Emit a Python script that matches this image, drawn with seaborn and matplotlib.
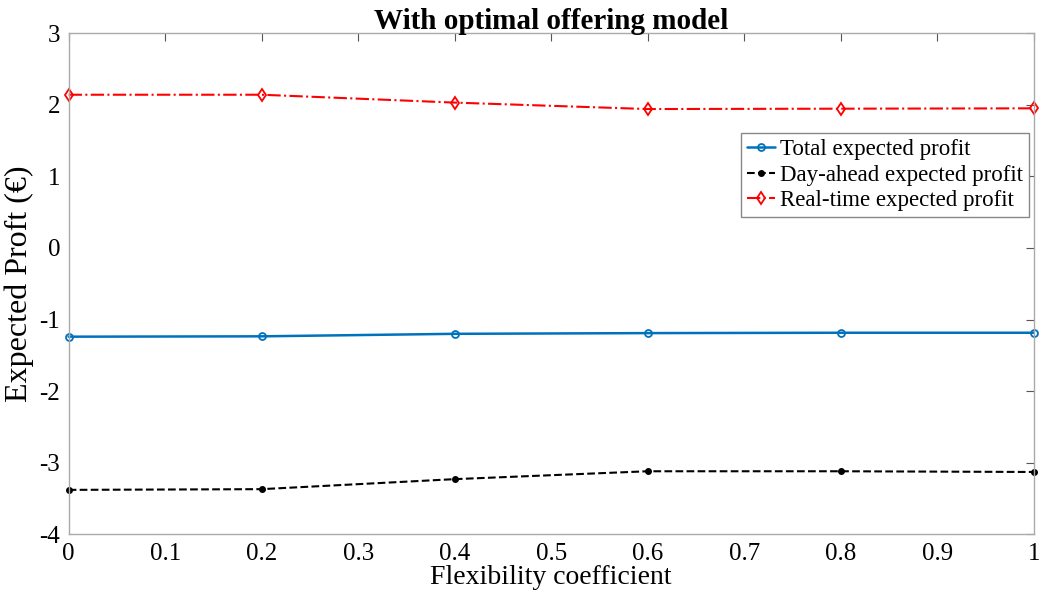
import matplotlib
matplotlib.use("Agg")
import matplotlib.pyplot as plt
import seaborn as sns
import pandas as pd

flex = [0, 0.2, 0.4, 0.6, 0.8, 1.0]
total = [-1.24, -1.235, -1.20, -1.19, -1.185, -1.185]
day_ahead = [-3.38, -3.37, -3.23, -3.12, -3.12, -3.13]
real_time = [2.14, 2.14, 2.03, 1.94, 1.945, 1.95]
labels = ["Total expected profit", "Day-ahead expected profit", "Real-time expected profit"]

sns.set_style("white")
plt.rcParams['font.family'] = ['Liberation Serif', 'DejaVu Serif']
plt.rcParams['text.color'] = 'black'
plt.rcParams['axes.labelcolor'] = 'black'
plt.rcParams['xtick.labelcolor'] = 'black'
plt.rcParams['ytick.labelcolor'] = 'black'

fig = plt.figure(figsize=(10.4, 6.03), dpi=100)
ax = fig.add_axes([0.066, 0.114, 0.928, 0.831])

styles = [
    dict(color="#0072BD", ls="-", marker="o", mfc="none", ms=5, mew=1.3, lw=1.8),
    dict(color="black", ls="--", marker="o", mfc="black", ms=4, mew=1, lw=1.5),
    dict(color="#FF0000", ls="-.", marker="d", mfc="none", ms=6, mew=1.3, lw=1.5),
]
for y, lab, st in zip([total, day_ahead, real_time], labels, styles):
    df = pd.DataFrame({"x": flex, "y": y})
    sns.lineplot(data=df, x="x", y="y", ax=ax, label=lab, color=st["color"],
                 linestyle=st["ls"], marker=st["marker"], markerfacecolor=st["mfc"],
                 markeredgecolor=st["color"], markersize=st["ms"], markeredgewidth=st["mew"],
                 linewidth=st["lw"], clip_on=False)

ax.set_xlim(0, 1)
ax.set_ylim(-4, 3)
ax.set_xticks([0, 0.1, 0.2, 0.3, 0.4, 0.5, 0.6, 0.7, 0.8, 0.9, 1])
ax.set_xticklabels(["0", "0.1", "0.2", "0.3", "0.4", "0.5", "0.6", "0.7", "0.8", "0.9", "1"])
ax.set_yticks([-4, -3, -2, -1, 0, 1, 2, 3])
ax.set_yticklabels(["-4", "-3", "-2", "-1", "0", "1", "2", "3"])
ax.tick_params(direction="in", length=6, width=0.8, color="#555555", labelsize=18,
               labelcolor="black", top=True, right=True, pad=6)
for sp in ax.spines.values():
    sp.set_color("#AAAAAA")
    sp.set_linewidth(1.0)
ax.set_xlabel("Flexibility coefficient", fontsize=20, labelpad=0, color="black")
ax.set_ylabel("Expected Proft (€)", fontsize=23, labelpad=4, color="black")
ax.set_title("With optimal offering model", fontsize=21, fontweight="bold", pad=3, color="black")

leg = ax.legend(loc="upper left", bbox_to_anchor=(0.697, 0.80), fontsize=16.5,
                frameon=True, fancybox=False, edgecolor="#888888",
                handlelength=1.2, handletextpad=0.25, borderpad=0.25, labelspacing=0.2,
                borderaxespad=0, framealpha=1)
leg.get_frame().set_linewidth(1.0)
for t in leg.get_texts():
    t.set_color("black")

fig.savefig("out.png", dpi=100)
